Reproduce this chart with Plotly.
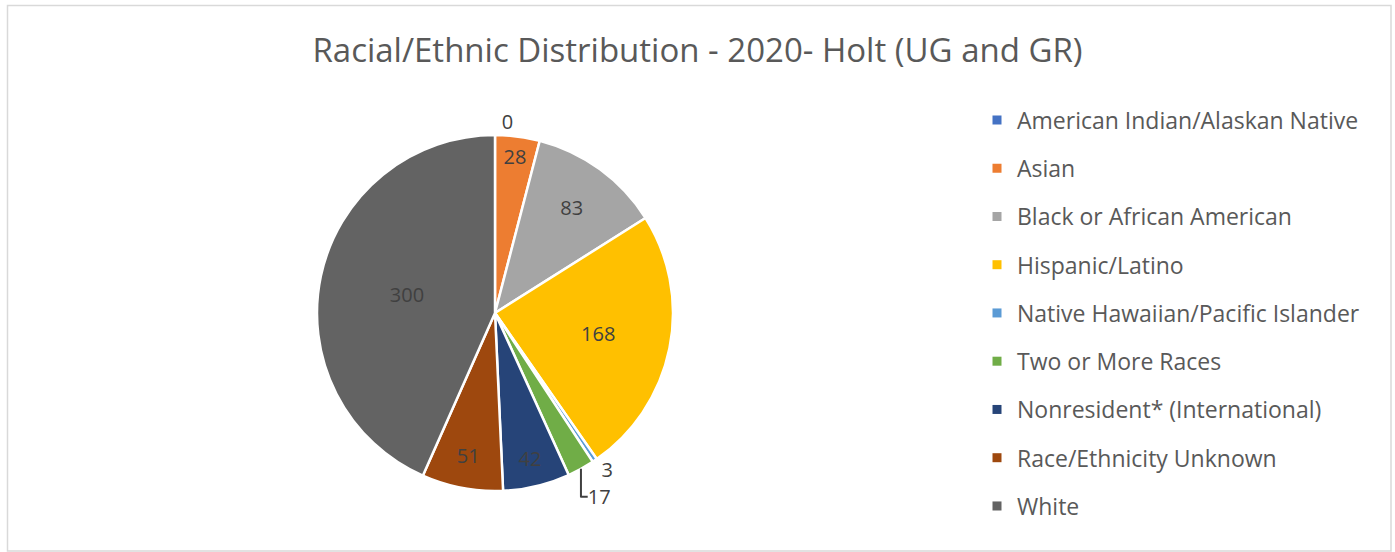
import plotly.graph_objects as go

categories = ["American Indian/Alaskan Native", "Asian", "Black or African American",
              "Hispanic/Latino", "Native Hawaiian/Pacific Islander", "Two or More Races",
              "Nonresident* (International)", "Race/Ethnicity Unknown", "White"]
values = [0, 28, 83, 168, 3, 17, 42, 51, 300]
colors = ["#4472C4", "#ED7D31", "#A5A5A5", "#FFC000", "#5B9BD5", "#70AD47",
          "#264478", "#9E480E", "#636363"]
text_positions = ["outside", "inside", "inside", "inside", "outside", "outside",
                  "inside", "inside", "inside"]
title = "Racial/Ethnic Distribution - 2020- Holt (UG and GR)"

W, H = 1395, 552
FONT = "Open Sans"
LABEL_FONT = dict(family=FONT, size=20, color="#404040")

fig = go.Figure()
fig.add_trace(go.Pie(
    labels=categories, values=values, sort=False, direction="clockwise", rotation=0,
    marker=dict(colors=colors, line=dict(color="white", width=2.5)),
    textinfo="value", textposition=text_positions,
    insidetextorientation="horizontal",
    textfont=LABEL_FONT, outsidetextfont=LABEL_FONT, insidetextfont=LABEL_FONT,
    showlegend=False,
    domain=dict(x=[317 / W, 673 / W], y=[1 - 491 / H, 1 - 135 / H]),
))

# legend entries (one per category)
for i, (c, col) in enumerate(zip(categories, colors)):
    fig.add_trace(go.Scatter(
        x=[None], y=[None], mode="markers", name=c, legendgroup=str(i),
        marker=dict(symbol="square", size=9, color=col),
        showlegend=True, hoverinfo="skip",
    ))

fig.update_layout(
    width=W, height=H,
    margin=dict(l=0, r=0, t=0, b=0),
    paper_bgcolor="white", plot_bgcolor="white",
    xaxis=dict(visible=False), yaxis=dict(visible=False),
    title=dict(text=title, x=0.5, xanchor="center", y=1 - 50 / H, yanchor="middle",
               font=dict(family=FONT, size=33, color="#595959")),
    legend=dict(x=977 / W, xanchor="left", y=1 - 98.5 / H, yanchor="top",
                font=dict(family=FONT, size=23, color="#595959"),
                traceorder="grouped", tracegroupgap=15.35, itemclick=False,
                bgcolor="rgba(0,0,0,0)"),
    shapes=[dict(type="rect", xref="paper", yref="paper",
                 x0=7.5 / W, x1=1391 / W, y0=1 - 551 / H, y1=1 - 5.5 / H,
                 line=dict(color="#D9D9D9", width=1.5), fillcolor="rgba(0,0,0,0)")],
)

fig.write_html("out.html", config={"displayModeBar": False},
               post_script="document.body.style.margin='0px';document.body.style.overflow='hidden';")
